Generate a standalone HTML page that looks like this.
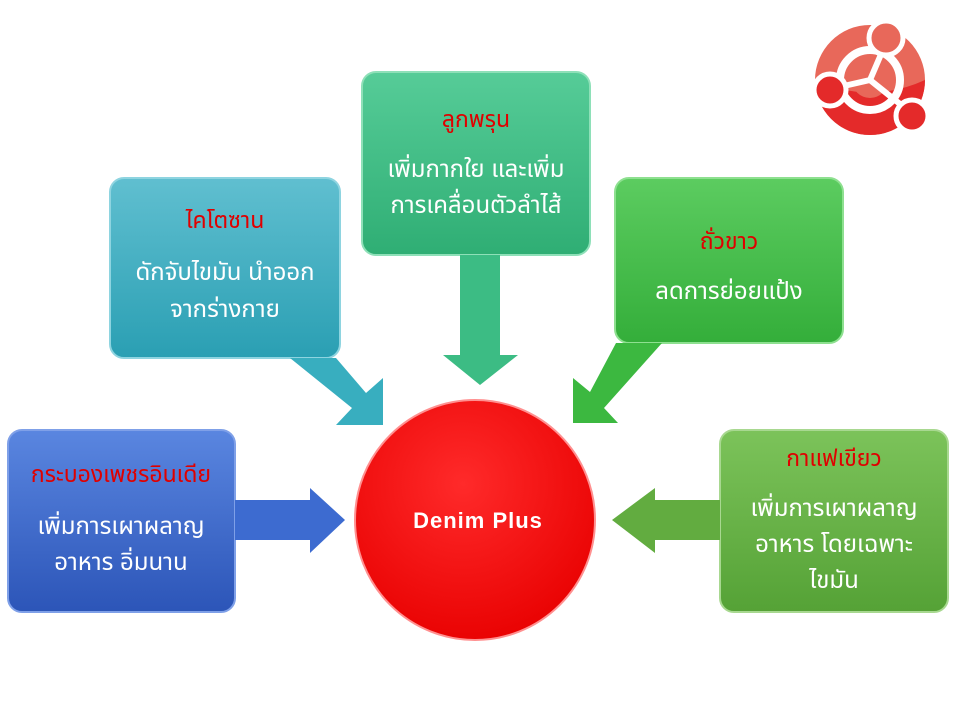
<!DOCTYPE html>
<html><head><meta charset="utf-8"><style>
body{margin:0;background:#fff;}
svg text{font-family:"Liberation Sans","Noto Sans Thai","Tahoma","DejaVu Sans",sans-serif;text-anchor:middle;}
.t{fill:#e00000;font-size:23px;}
.b{fill:#fff;font-size:24px;}
</style></head><body>
<svg width="960" height="720" viewBox="0 0 960 720" xmlns="http://www.w3.org/2000/svg">
<defs>
<linearGradient id="gb" x1="0" y1="0" x2="0" y2="1"><stop offset="0" stop-color="#5a86e0"/><stop offset="1" stop-color="#2c55b8"/></linearGradient>
<linearGradient id="gt" x1="0" y1="0" x2="0" y2="1"><stop offset="0" stop-color="#60bfd0"/><stop offset="1" stop-color="#2a9fb3"/></linearGradient>
<linearGradient id="gg" x1="0" y1="0" x2="0" y2="1"><stop offset="0" stop-color="#56cc98"/><stop offset="1" stop-color="#2fae74"/></linearGradient>
<linearGradient id="gl" x1="0" y1="0" x2="0" y2="1"><stop offset="0" stop-color="#5ccc60"/><stop offset="1" stop-color="#34ae3a"/></linearGradient>
<linearGradient id="go" x1="0" y1="0" x2="0" y2="1"><stop offset="0" stop-color="#7cc35a"/><stop offset="1" stop-color="#55a236"/></linearGradient>
<radialGradient id="gr" cx="0.45" cy="0.35" r="0.7"><stop offset="0" stop-color="#ff2a2a"/><stop offset="1" stop-color="#e80000"/></radialGradient>
</defs>
<!-- logo -->
<circle cx="870" cy="80" r="55" fill="#e8685a"/>
<path d="M815 80 A55 55 0 0 0 925 80 Q870 105 815 80Z" fill="#e42a2a"/>
<circle cx="870" cy="80" r="30" fill="none" stroke="#fff" stroke-width="8"/>
<circle cx="870" cy="80" r="18" fill="#e8685a"/>
<line x1="870" y1="80" x2="885" y2="45" stroke="#fff" stroke-width="6"/>
<line x1="870" y1="80" x2="835" y2="88" stroke="#fff" stroke-width="6"/>
<line x1="870" y1="80" x2="910" y2="112" stroke="#fff" stroke-width="6"/>
<circle cx="886" cy="38" r="17" fill="#e8685a" stroke="#fff" stroke-width="5"/>
<circle cx="830" cy="90" r="16" fill="#e42a2a" stroke="#fff" stroke-width="5"/>
<circle cx="912" cy="116" r="16" fill="#e42a2a" stroke="#fff" stroke-width="5"/>

<!-- blue -->
<rect x="8" y="430" width="227" height="182" rx="14" fill="url(#gb)" stroke="#7fa0e8" stroke-width="2"/>
<polygon points="235,500 310,500 310,488 345,520 310,553 310,540 235,540" fill="#3d6bd0"/>
<text class="t" x="121" y="482">กระบองเพชรอินเดีย</text>
<text class="b" x="121" y="534">เพิ่มการเผาผลาญ</text>
<text class="b" x="121" y="570">อาหาร อิ่มนาน</text>

<!-- teal -->
<rect x="110" y="178" width="230" height="180" rx="14" fill="url(#gt)" stroke="#8ed4e0" stroke-width="2"/>
<polygon points="290,358 336,358 366,393 383,378 383,425 336,425 352,408" fill="#38aebf"/>
<text class="t" x="225" y="228">ไคโตซาน</text>
<text class="b" x="225" y="280">ดักจับไขมัน นำออก</text>
<text class="b" x="225" y="317">จากร่างกาย</text>

<!-- top -->
<rect x="362" y="72" width="228" height="183" rx="14" fill="url(#gg)" stroke="#8ee0b8" stroke-width="2"/>
<polygon points="460,255 500,255 500,355 518,355 480,385 443,355 460,355" fill="#3cbc84"/>
<text class="t" x="476" y="127">ลูกพรุน</text>
<text class="b" x="476" y="177">เพิ่มกากใย และเพิ่ม</text>
<text class="b" x="476" y="213">การเคลื่อนตัวลำไส้</text>

<!-- green -->
<rect x="615" y="178" width="228" height="165" rx="14" fill="url(#gl)" stroke="#8ee090" stroke-width="2"/>
<polygon points="662,343 616,343 590,392 573,378 573,423 618,423 604,408" fill="#3cb840"/>
<text class="t" x="729" y="249">ถั่วขาว</text>
<text class="b" x="729" y="299">ลดการย่อยแป้ง</text>

<!-- right -->
<rect x="720" y="430" width="228" height="182" rx="14" fill="url(#go)" stroke="#a8d890" stroke-width="2"/>
<polygon points="720,500 655,500 655,488 612,520 655,553 655,540 720,540" fill="#62ac40"/>
<text class="t" x="834" y="466">กาแฟเขียว</text>
<text class="b" x="834" y="516">เพิ่มการเผาผลาญ</text>
<text class="b" x="834" y="552">อาหาร โดยเฉพาะ</text>
<text class="b" x="834" y="588">ไขมัน</text>

<!-- center -->
<circle cx="475" cy="520" r="120" fill="url(#gr)" stroke="#ff9090" stroke-width="2"/>
<text x="478" y="528" style="fill:#fff;font-size:22px;font-weight:bold;letter-spacing:1px;">Denim Plus</text>
</svg>
</body></html>
